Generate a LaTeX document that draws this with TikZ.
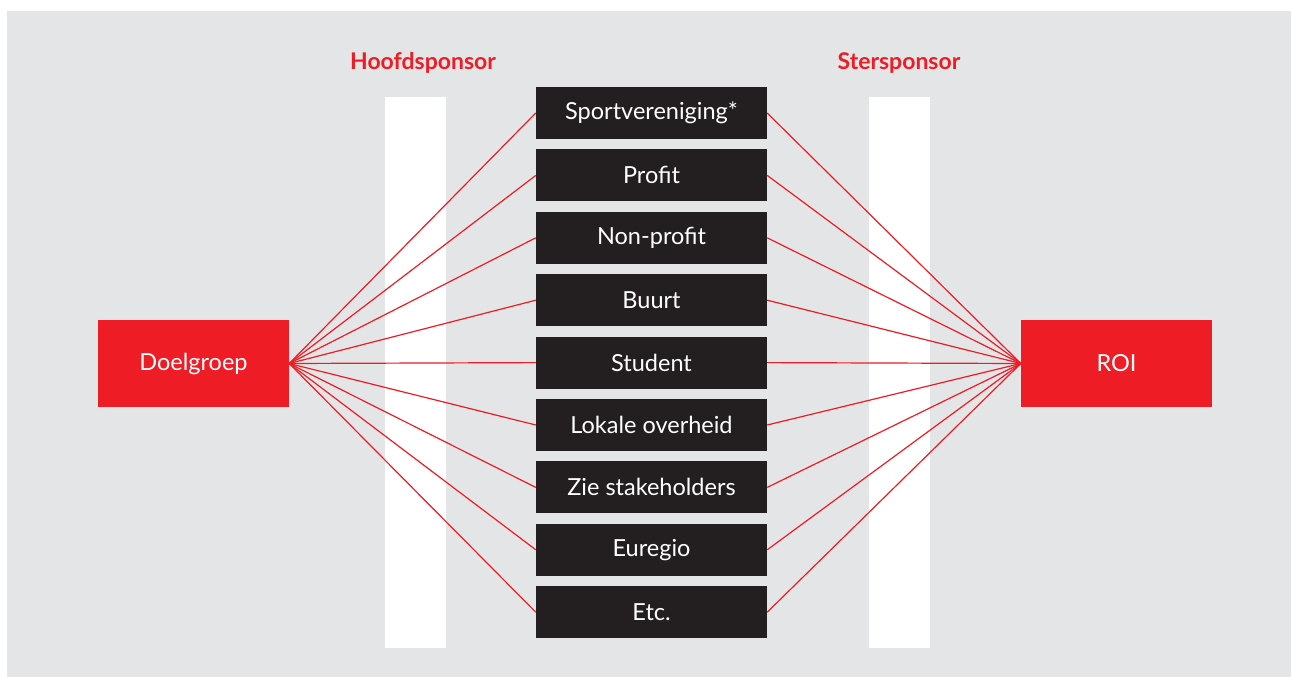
\documentclass[tikz,border=0pt]{standalone}
\usepackage{fontspec}
\setmainfont{Lato}
\usepackage{xcolor}
\usepackage{tikz}
\definecolor{sponsred}{HTML}{EE1C25}
\definecolor{boxblack}{HTML}{231F20}
\definecolor{bggray}{HTML}{E4E5E7}
\tikzset{
  cat/.style={fill=boxblack,text=white,minimum width=231pt,minimum height=52pt,inner sep=0pt,font=\fontsize{23.5}{28}\selectfont},
  endbox/.style={fill=sponsred,text=white,minimum width=191pt,minimum height=87pt,inner sep=0pt,font=\fontsize{23.5}{28}\selectfont},
  sponsor/.style={text=sponsred,font=\fontsize{23}{28}\selectfont\bfseries},
  link/.style={sponsred,line width=1.2pt}
}
\begin{document}
\begin{tikzpicture}[x=1pt,y=-1pt]
\useasboundingbox (0,0) rectangle (1291,677);
\fill[bggray] (7,11) rectangle (1291,677);
%% white bars
\fill[white] (385,97) rectangle (446,648);
\fill[white] (869,97) rectangle (930,648);
\node[sponsor] (hoofd) at (423,63) {Hoofdsponsor};
\node[sponsor] (sters) at (899,63) {Stersponsor};
%%
\node[endbox] (doel) at (193.5,363.5) {Doelgroep};
\node[endbox] (roi) at (1116.5,363.5) {ROI};
%%
\node[cat] (c1) at (651.5,113) {Sportvereniging*};
\node[cat] (c2) at (651.5,175.4) {Profit};
\node[cat] (c3) at (651.5,237.8) {Non-profit};
\node[cat] (c4) at (651.5,300.2) {Buurt};
\node[cat] (c5) at (651.5,362.6) {Student};
\node[cat] (c6) at (651.5,425) {Lokale overheid};
\node[cat] (c7) at (651.5,487.4) {Zie stakeholders};
\node[cat] (c8) at (651.5,549.8) {Euregio};
\node[cat] (c9) at (651.5,612.2) {Etc.};
%%
\foreach \c in {c1,c2,c3,c4,c5,c6,c7,c8,c9}{
  \draw[link] (doel.east) -- (\c.west);
  \draw[link] (\c.east) -- (roi.west);
}
\end{tikzpicture}
\end{document}
